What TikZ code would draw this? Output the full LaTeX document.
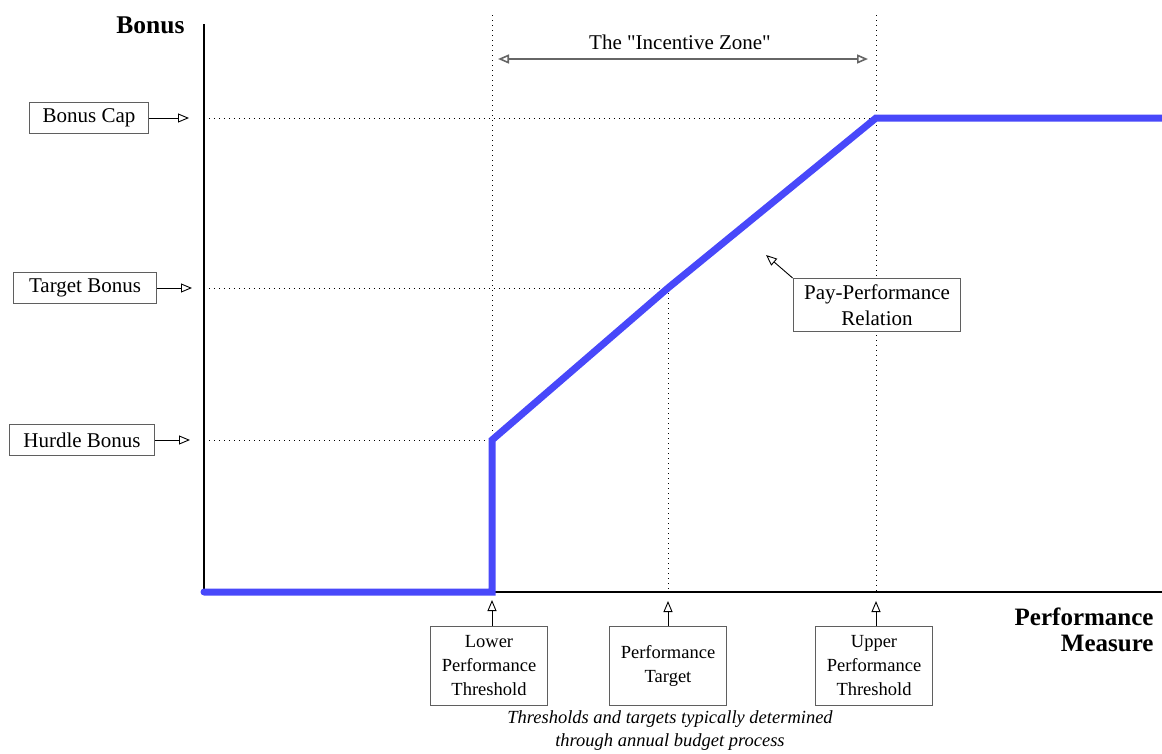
\documentclass[tikz,border=0pt]{standalone}
\usepackage{fontspec}
\setmainfont{Liberation Serif}
\usetikzlibrary{arrows.meta}
\definecolor{paycurve}{RGB}{72,72,250}
\definecolor{boxline}{RGB}{95,95,95}

\begin{document}
\begin{tikzpicture}[x=1pt,y=-1pt,>={Triangle[open,length=11pt,width=9pt]},line width=1pt]
  \tikzstyle{level box}=[draw=boxline,fill=white,inner xsep=13pt,minimum height=31pt,font=\fontsize{21}{26}\selectfont]
  \tikzstyle{measure box}=[draw=boxline,fill=white,align=center,minimum width=117pt,minimum height=79pt,inner sep=0pt,font=\fontsize{18.5}{24}\selectfont]
  \tikzstyle{guide}=[line width=0.9pt,dash pattern=on 1pt off 4pt]
  \tikzstyle{pointer}=[->,line width=0.9pt,black]
  \tikzstyle{axis}=[line width=2.6pt,black]
  \tikzstyle{curve}=[line width=7pt,paycurve,line cap=round]

  \useasboundingbox (0,0) rectangle (1162,753);

  % graph points
  \coordinate (origin) at (204,592);
  \coordinate (ytop)   at (204,24);
  \coordinate (xend)   at (1162,592);
  \coordinate (lower)  at (492,592);
  \coordinate (target) at (668,592);
  \coordinate (upper)  at (876,592);
  \coordinate (hurdle) at (204,440);
  \coordinate (tbonus) at (204,288);
  \coordinate (cap)    at (204,118);
  \coordinate (relation) at (766,255);

  % guides
  \draw[guide] (cap) -- (upper |- cap);
  \draw[guide] (tbonus) -- (target |- tbonus);
  \draw[guide] (hurdle) -- (lower |- hurdle);
  \draw[guide] (lower |- 0,15) -- (lower);
  \draw[guide] (target |- tbonus) -- (target);
  \draw[guide] (upper |- 0,15) -- (upper);

  % axes
  \draw[axis] (ytop) -- (origin) -- (xend);
  \node[anchor=east,inner sep=0pt,font=\bfseries\fontsize{25.5}{28}\selectfont] (ylabel) at (185,25) {Bonus};
  \node[anchor=east,inner sep=0pt,align=right,font=\bfseries\fontsize{25}{26}\selectfont] (xlabel) at (1154,630) {Performance\\Measure};

  % pay-performance curve
  \draw[curve] (origin) -- (lower) -- (lower |- hurdle) -- (target |- tbonus) -- (upper |- cap) -- (xend |- cap);

  % bonus levels
  \node[level box] (capbox)    at (89,118)  {Bonus Cap};
  \node[level box,inner xsep=16pt] (tbonusbox) at (85,288)  {Target Bonus};
  \node[level box,inner xsep=14pt] (hurdlebox) at (82,440)  {Hurdle Bonus};
  \draw[pointer,shorten >=15pt] (capbox) -- (cap);
  \draw[pointer,shorten >=12pt] (tbonusbox) -- (tbonus);
  \draw[pointer,shorten >=14pt] (hurdlebox) -- (hurdle);

  % performance levels
  \node[measure box] (lowerbox)  at (489,666) {Lower\\Performance\\Threshold};
  \node[measure box] (targetbox) at (668,666) {Performance\\Target};
  \node[measure box] (upperbox)  at (874,666) {Upper\\Performance\\Threshold};
  \draw[pointer,shorten >=8pt] (lower |- lowerbox.north) -- (lower);
  \draw[pointer,shorten >=9pt] (target |- targetbox.north) -- (target);
  \draw[pointer,shorten >=9pt] (upper |- upperbox.north) -- (upper);
  \node[align=center,font=\itshape\fontsize{18.5}{23}\selectfont] (note) at (670,731)
    {Thresholds and targets typically determined\\through annual budget process};

  % incentive zone
  \draw[<->,line width=1.6pt,black!60,shorten <=6pt,shorten >=8pt] (lower |- 0,59) -- (upper |- 0,59);
  \node[font=\fontsize{21}{26}\selectfont] (zone) at (680,42) {The \textquotedbl Incentive Zone\textquotedbl};

  % relation
  \node[level box,minimum height=53pt,inner xsep=11pt,align=center] (relbox) at (877,305) {Pay-Performance\\Relation};
  \draw[pointer] (relbox.north west) -- (relation);
\end{tikzpicture}
\end{document}
